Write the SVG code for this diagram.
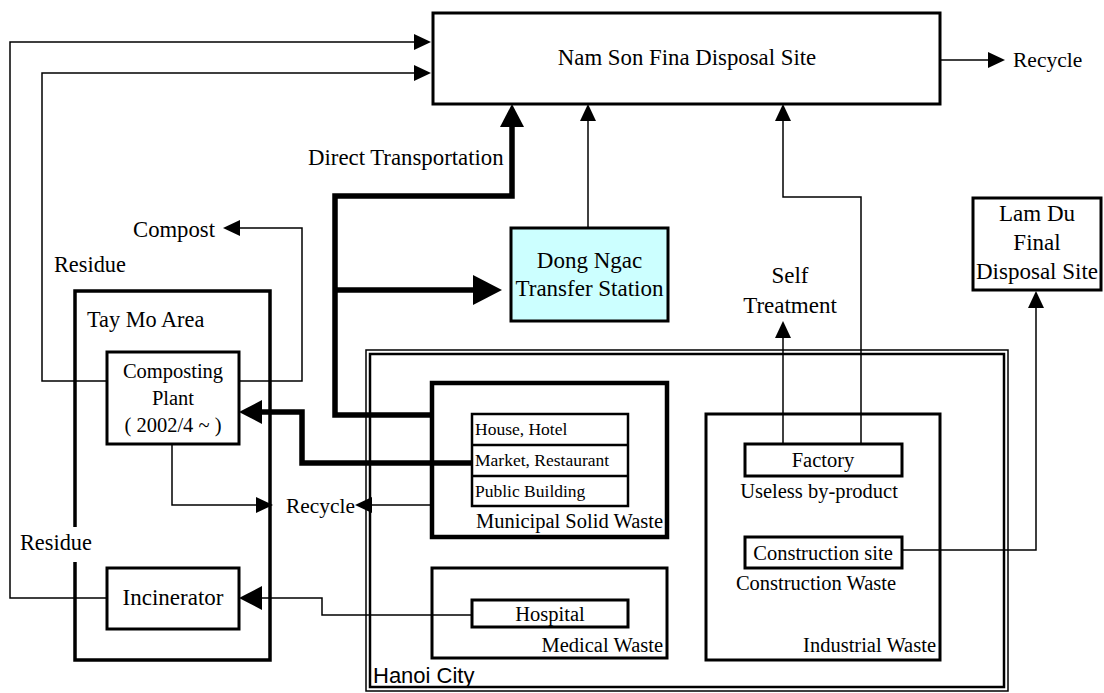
<svg xmlns="http://www.w3.org/2000/svg" width="1104" height="693" viewBox="0 0 1104 693">
<style>
text{font-family:"Liberation Serif","Times New Roman",serif;fill:#000}
.l{font-size:23px}
.m{font-size:20.5px}
.s{font-size:17.5px}
.sans{font-family:"Liberation Sans",Arial,sans-serif;font-size:22px}
.c{text-anchor:middle}
.e{text-anchor:end}
.box{fill:#fff;stroke:#000;stroke-width:3}
.thin{fill:none;stroke:#000;stroke-width:1.5}
.thick{fill:none;stroke:#000;stroke-width:5.5}
</style>
<defs>
<marker id="ah" markerUnits="userSpaceOnUse" markerWidth="17" markerHeight="16" refX="0" refY="8" orient="auto"><path d="M0,0L17,8L0,16z" fill="#000"/></marker>
<marker id="ahb" markerUnits="userSpaceOnUse" markerWidth="23" markerHeight="24" refX="0" refY="12" orient="auto"><path d="M0,0L23,12L0,24z" fill="#000"/></marker>
<marker id="ahx" markerUnits="userSpaceOnUse" markerWidth="29" markerHeight="30" refX="0" refY="15" orient="auto"><path d="M0,0L29,15L0,30z" fill="#000"/></marker>
</defs>
<rect width="1104" height="693" fill="#fff"/>

<g id="hanoi">
<rect x="366" y="350" width="642" height="341" fill="none" stroke="#000" stroke-width="1.5"/>
<rect x="370" y="354" width="634" height="333" fill="none" stroke="#000" stroke-width="2.5"/>
<text class="sans" x="373" y="683">Hanoi City</text>
</g>

<g id="taymo">
<path d="M75,527V291H270V660H75V562" fill="none" stroke="#000" stroke-width="3.5"/>
<text class="l" x="87" y="327" style="font-size:22.3px">Tay Mo Area</text>
</g>

<g id="connectors">
<path class="thin" d="M107,598H10V42H414" marker-end="url(#ah)"/>
<path class="thin" d="M107,381H42V73H414" marker-end="url(#ah)"/>
<path class="thin" d="M239,381H302V228H240" marker-end="url(#ah)"/>
<path class="thin" d="M172,444V505H256" marker-end="url(#ah)"/>
<path class="thin" d="M432,505H372" marker-end="url(#ah)"/>
<path class="thin" d="M472,615H322V598H262" marker-end="url(#ahb)"/>
<path class="thick" d="M472,463H302V412H262" marker-end="url(#ahb)"/>
<path class="thick" d="M432,415H335V196H512V127" marker-end="url(#ahb)"/>
<path class="thick" d="M335,290H473" marker-end="url(#ahx)"/>
<path class="thin" d="M588,228V121" marker-end="url(#ah)"/>
<path class="thin" d="M861,444V197H783V121" marker-end="url(#ah)"/>
<path class="thin" d="M783,444V338" marker-end="url(#ah)"/>
<path class="thin" d="M902,550H1036V308" marker-end="url(#ah)"/>
<path class="thin" d="M940,60H988" marker-end="url(#ah)"/>
</g>

<g id="namson">
<rect class="box" x="433" y="13" width="507" height="91"/>
<text class="l c" x="687" y="65" style="font-size:22.8px">Nam Son Fina Disposal Site</text>
</g>
<g id="recycle-top"><text class="l" x="1013" y="67" style="font-size:21.5px">Recycle</text></g>
<g id="direct"><text class="l" x="308" y="165" style="font-size:22.8px">Direct Transportation</text></g>

<g id="dongngac">
<rect class="box" x="511" y="228" width="157" height="93" style="fill:#ccffff"/>
<text class="l c" x="589.5" y="268">Dong Ngac</text>
<text class="l c" x="589.5" y="296">Transfer Station</text>
</g>

<g id="selftreat">
<text class="l c" x="790" y="283">Self</text>
<text class="l c" x="790" y="313">Treatment</text>
</g>

<g id="lamdu">
<rect class="box" x="973" y="198" width="128" height="92"/>
<text class="l c" x="1037" y="221">Lam Du</text>
<text class="l c" x="1037" y="250">Final</text>
<text class="l c" x="1037" y="279">Disposal Site</text>
</g>

<g id="compost"><text class="l" x="133" y="237" style="font-size:22.7px">Compost</text></g>
<g id="residue1"><text class="l" x="54" y="272" style="font-size:22.3px">Residue</text></g>
<g id="residue2"><text class="l" x="20" y="550" style="font-size:22.3px">Residue</text></g>
<g id="recycle-mid"><text class="l" x="286" y="513" style="font-size:21.4px">Recycle</text></g>

<g id="composting">
<rect class="box" x="107" y="352" width="132" height="92"/>
<text class="m c" x="173" y="378">Composting</text>
<text class="m c" x="173" y="405">Plant</text>
<text class="m c" x="173" y="432">( 2002/4 ~  )</text>
</g>

<g id="incinerator">
<rect class="box" x="107" y="568" width="132" height="61"/>
<text class="l c" x="173" y="605">Incinerator</text>
</g>

<g id="msw">
<rect x="432" y="383" width="235" height="154" fill="none" stroke="#000" stroke-width="4.5"/>
<rect x="472" y="414" width="156" height="92" fill="#fff" stroke="#000" stroke-width="2.5"/>
<line x1="472" y1="445" x2="628" y2="445" stroke="#000" stroke-width="2.5"/>
<line x1="472" y1="476" x2="628" y2="476" stroke="#000" stroke-width="2.5"/>
<text class="s" x="475" y="435">House, Hotel</text>
<text class="s" x="475" y="466">Market, Restaurant</text>
<text class="s" x="475" y="497">Public Building</text>
<text class="m e" x="663" y="528">Municipal Solid Waste</text>
</g>

<g id="medical">
<rect x="432" y="568" width="235" height="90" fill="none" stroke="#000" stroke-width="3"/>
<rect class="box" x="472" y="600" width="156" height="27"/>
<text class="m c" x="550" y="621">Hospital</text>
<text class="m e" x="663" y="652">Medical Waste</text>
</g>

<g id="industrial">
<rect x="706" y="414" width="234" height="246" fill="none" stroke="#000" stroke-width="3"/>
<rect class="box" x="745" y="444" width="157" height="32"/>
<text class="m c" x="823" y="467">Factory</text>
<text class="m c" x="819" y="498">Useless by-product</text>
<rect class="box" x="745" y="537" width="157" height="31"/>
<text class="m c" x="823" y="560">Construction site</text>
<text class="m c" x="816" y="590">Construction Waste</text>
<text class="m e" x="936" y="652">Industrial Waste</text>
</g>
</svg>
